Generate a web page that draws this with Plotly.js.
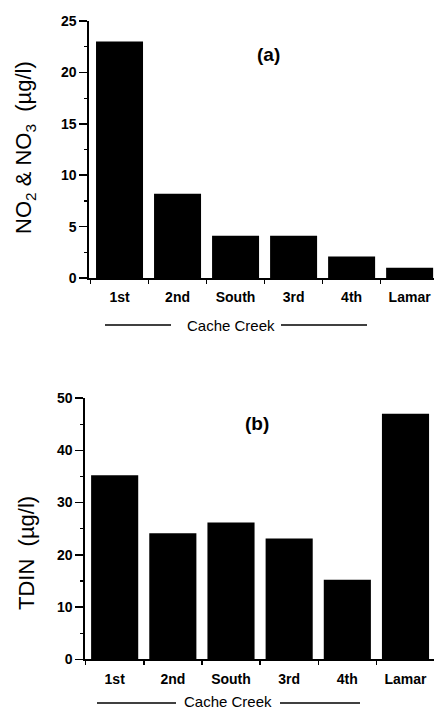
<!DOCTYPE html>
<html>
<head>
<meta charset="utf-8">
<script src="https://cdn.plot.ly/plotly-3.0.1.min.js"></script>
<style>html,body{margin:0;padding:0;background:#fff;}#chart{width:434px;height:710px;}</style>
</head>
<body>
<div id="chart"></div>
<script>
// Data
const sites = ["1st", "2nd", "South", "3rd", "4th", "Lamar"];
const no2no3 = [23, 8.2, 4.1, 4.1, 2.1, 1.0];
const tdin = [35.2, 24.1, 26.2, 23.1, 15.2, 47.0];
const panelLabels = ["(a)", "(b)"];
const groupLabel = "Cache Creek";
const yTitleA = "NO<sub>2</sub> &amp; NO<sub>3</sub>&nbsp; (µg/l)";
const yTitleB = "TDIN&nbsp; (µg/l)";

const W = 434, H = 710;
const px = v => v / W;
const py = v => 1 - v / H;

const FONT = "Liberation Sans, Arial, Helvetica, sans-serif";
const tickFont = {family: FONT, size: 14, color: "#000", weight: "bold"};

const traces = [
  {type: "bar", x: sites, y: no2no3, xaxis: "x", yaxis: "y",
   marker: {color: "#000", line: {width: 0}}, width: 0.81, hoverinfo: "skip"},
  {type: "bar", x: sites, y: tdin, xaxis: "x2", yaxis: "y2",
   marker: {color: "#000", line: {width: 0}}, width: 0.81, hoverinfo: "skip"}
];

function xAxis(domain, range, anchor) {
  return {domain: domain, range: range, anchor: anchor, type: "category",
    showline: true, linecolor: "#000", linewidth: 1.6,
    ticks: "outside", tickson: "boundaries", ticklen: 4, tickwidth: 1.5, tickcolor: "#000",
    tickfont: tickFont, ticklabelstandoff: 6, showgrid: false, zeroline: false, fixedrange: true};
}
function yAxis(domain, range, dtick, anchor) {
  return {domain: domain, range: range, anchor: anchor, dtick: dtick, tick0: 0,
    showline: true, linecolor: "#000", linewidth: 1.6,
    ticks: "outside", ticklen: 8, tickwidth: 1.5, tickcolor: "#000",
    minor: {dtick: dtick / 2, ticks: "outside", ticklen: 3, tickwidth: 1.2, tickcolor: "#000", showgrid: false},
    tickfont: tickFont, showgrid: false, zeroline: false, fixedrange: true};
}

const layout = {
  width: W, height: H,
  margin: {l: 0, r: 0, t: 0, b: 0},
  paper_bgcolor: "#fff", plot_bgcolor: "rgba(0,0,0,0)",
  showlegend: false,
  bargap: 0.19,
  xaxis: xAxis([px(89), 1], [-0.526, 5.42], "y"),
  yaxis: yAxis([py(278), py(21)], [0, 25], 5, "x"),
  xaxis2: xAxis([px(85), 1], [-0.51, 5.49], "y2"),
  yaxis2: yAxis([py(659.3), py(398)], [0, 50], 10, "x2"),
  annotations: [
    {text: panelLabels[0], xref: "paper", yref: "paper", x: px(268), y: py(54), showarrow: false,
     xanchor: "center", yanchor: "middle", font: {family: FONT, size: 19, color: "#000", weight: "bold"}},
    {text: panelLabels[1], xref: "paper", yref: "paper", x: px(257), y: py(423), showarrow: false,
     xanchor: "center", yanchor: "middle", font: {family: FONT, size: 19, color: "#000", weight: "bold"}},
    {text: yTitleA, xref: "paper", yref: "paper", x: px(25), y: py(148), textangle: -90, showarrow: false,
     xanchor: "center", yanchor: "middle", font: {family: FONT, size: 22, color: "#000"}},
    {text: yTitleB, xref: "paper", yref: "paper", x: px(26), y: py(553), textangle: -90, showarrow: false,
     xanchor: "center", yanchor: "middle", font: {family: FONT, size: 22, color: "#000"}},
    {text: groupLabel, xref: "paper", yref: "paper", x: px(231), y: py(325), showarrow: false,
     xanchor: "center", yanchor: "middle", font: {family: FONT, size: 15, color: "#000"}},
    {text: groupLabel, xref: "paper", yref: "paper", x: px(228), y: py(701), showarrow: false,
     xanchor: "center", yanchor: "middle", font: {family: FONT, size: 15, color: "#000"}}
  ],
  shapes: [
    {type: "line", xref: "paper", yref: "paper", x0: px(105), x1: px(171), y0: py(325), y1: py(325), line: {color: "#000", width: 1.5}},
    {type: "line", xref: "paper", yref: "paper", x0: px(281), x1: px(367), y0: py(325), y1: py(325), line: {color: "#000", width: 1.5}},
    {type: "line", xref: "paper", yref: "paper", x0: px(97), x1: px(176), y0: py(703), y1: py(703), line: {color: "#000", width: 1.5}},
    {type: "line", xref: "paper", yref: "paper", x0: px(280), x1: px(360), y0: py(703), y1: py(703), line: {color: "#000", width: 1.5}}
  ]
};

Plotly.newPlot("chart", traces, layout, {staticPlot: true, displayModeBar: false});
</script>
</body>
</html>
